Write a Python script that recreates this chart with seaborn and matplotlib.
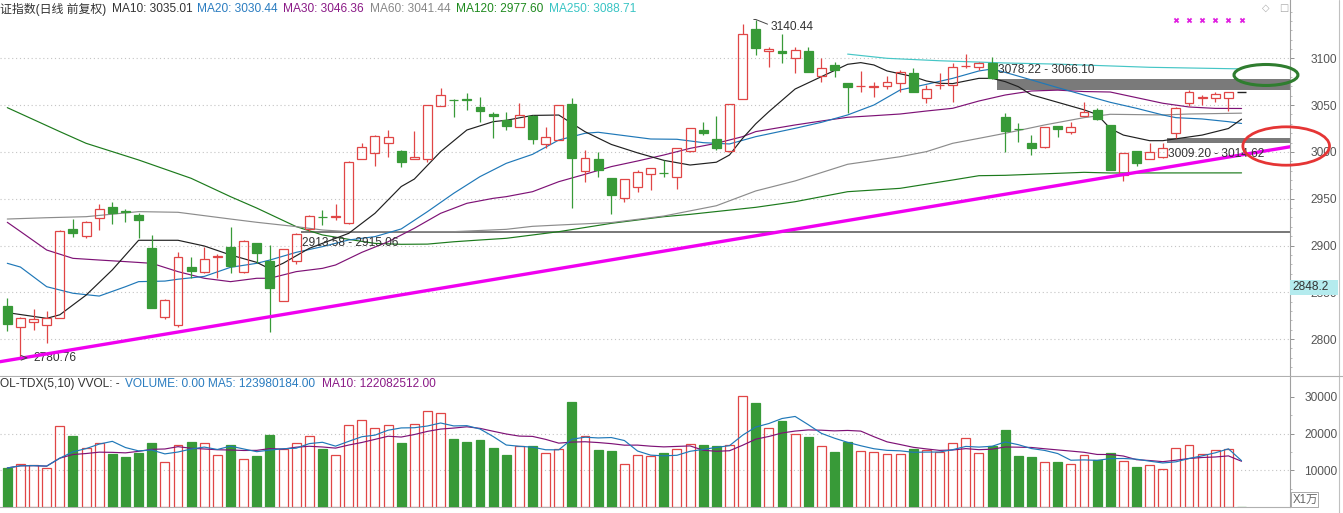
import numpy as np
import pandas as pd
import matplotlib
matplotlib.use("Agg")
import matplotlib.pyplot as plt
import seaborn as sns
from matplotlib.patches import Ellipse, Rectangle

# ---------------- data ----------------
opens = [2835.4, 2812.6, 2818.7, 2815.2, 2822.2, 2917.3, 2910.5, 2929.1, 2940.8, 2937.0,
         2932.6, 2897.0, 2824.0, 2815.2, 2877.4, 2872.1, 2887.6, 2898.1, 2872.1, 2902.4,
         2883.5, 2840.7, 2883.8, 2918.0, 2931.0, 2930.5, 2923.7, 2992.1, 2998.5, 3009.2,
         3001.0, 2992.4, 2992.1, 3049.4, 3055.8, 3056.0, 3047.6, 3040.5, 3034.1, 3027.0,
         3038.4, 3008.1, 3012.7, 3050.9, 2980.0, 2992.5, 2971.8, 2950.4, 2962.9, 2976.1,
         2978.0, 2972.9, 3001.0, 3023.4, 3013.5, 3001.0, 3056.2, 3131.0, 3107.8, 3107.8,
         3100.0, 3107.8, 3081.5, 3092.9, 3073.3, 3070.0, 3069.5, 3070.4, 3073.3, 3084.0,
         3057.3, 3071.5, 3071.5, 3091.5, 3090.4, 3095.4, 3037.7, 3025.0, 3009.9, 3004.9,
         3027.7, 3020.9, 3038.4, 3044.8, 3028.8, 2975.4, 3001.0, 2992.5, 2994.2, 3019.9,
         3051.9, 3058.0, 3057.3, 3057.3]
closes = [2815.8, 2822.2, 2821.5, 2822.2, 2915.9, 2913.7, 2924.8, 2938.7, 2935.1, 2936.2,
          2927.6, 2833.6, 2841.8, 2887.4, 2872.8, 2885.3, 2888.3, 2878.5, 2905.2, 2892.4,
          2855.0, 2895.9, 2912.5, 2931.6, 2930.4, 2931.3, 2988.9, 3005.6, 3017.4, 3016.3,
          2988.9, 2994.9, 3050.1, 3060.8, 3055.3, 3055.4, 3044.1, 3038.4, 3028.1, 3039.5,
          3013.5, 3015.6, 3050.1, 2993.2, 2993.9, 2980.4, 2954.0, 2970.7, 2978.2, 2982.5,
          2977.4, 3003.8, 3025.2, 3019.9, 3003.8, 3050.9, 3125.6, 3110.7, 3110.0, 3105.3,
          3108.9, 3085.8, 3089.3, 3087.5, 3069.0, 3070.5, 3070.0, 3074.4, 3085.0, 3064.4,
          3067.2, 3072.0, 3090.4, 3092.0, 3095.4, 3078.6, 3022.4, 3024.5, 3003.8, 3026.3,
          3024.1, 3026.3, 3043.0, 3034.8, 2980.7, 2998.5, 2988.6, 2999.6, 3004.6, 3047.3,
          3064.4, 3058.5, 3061.9, 3063.7]
highs = [2843.6, 2824.0, 2831.8, 2830.0, 2916.6, 2928.3, 2926.0, 2944.4, 2946.2, 2939.0,
         2934.4, 2911.3, 2843.0, 2892.7, 2887.4, 2898.8, 2890.6, 2919.4, 2906.0, 2903.0,
         2900.6, 2896.0, 2913.58, 2932.6, 2938.0, 2944.0, 2990.3, 3009.2, 3017.6, 3023.4,
         3002.0, 3022.4, 3050.3, 3068.0, 3056.2, 3062.6, 3059.0, 3043.0, 3043.0, 3051.9,
         3039.5, 3026.3, 3050.3, 3057.3, 3002.1, 2999.6, 2972.0, 2971.0, 2980.7, 2982.7,
         2991.4, 3004.0, 3025.4, 3032.3, 3038.4, 3051.0, 3136.3, 3140.44, 3112.5, 3125.6,
         3112.5, 3112.5, 3100.0, 3096.4, 3073.5, 3086.5, 3075.1, 3081.5, 3087.5, 3089.3,
         3071.5, 3084.0, 3094.7, 3104.3, 3096.4, 3101.8, 3041.2, 3030.6, 3018.1, 3026.5,
         3028.0, 3032.3, 3053.7, 3046.6, 3029.0, 2999.2, 3001.2, 3009.2, 3009.20, 3047.5,
         3066.10, 3060.8, 3064.4, 3063.9]
lows = [2808.7, 2780.76, 2809.8, 2795.5, 2822.2, 2909.5, 2907.7, 2916.6, 2922.6, 2924.8,
        2908.4, 2833.0, 2821.5, 2812.6, 2865.0, 2871.0, 2865.0, 2870.3, 2870.3, 2881.0,
        2808.0, 2840.5, 2880.0, 2915.06, 2921.9, 2927.3, 2923.5, 2992.0, 2985.3, 2994.9,
        2984.3, 2992.0, 2989.6, 3049.0, 3037.7, 3044.8, 3032.3, 3015.2, 3023.4, 3026.8,
        3008.1, 3003.8, 3012.5, 2939.7, 2968.2, 2973.6, 2933.3, 2946.6, 2957.5, 2959.3,
        2972.9, 2960.4, 3000.0, 3018.0, 3002.1, 3000.3, 3056.0, 3103.6, 3091.1, 3094.7,
        3084.0, 3085.0, 3074.4, 3080.4, 3041.2, 3064.4, 3059.0, 3067.2, 3064.4, 3063.7,
        3051.9, 3067.2, 3053.7, 3089.3, 3087.5, 3078.22, 3000.3, 3010.3, 2996.7, 3004.7,
        3016.3, 3018.8, 3038.2, 3034.5, 2980.5, 2969.3, 2985.3, 2992.3, 2994.0, 3014.62,
        3049.4, 3050.1, 3053.7, 3044.1]
last_price = 3063.7   # today's (empty) slot

volumes = [10636, 11817, 11363, 10726, 21998, 19271, 16180, 17544, 14453, 13544,
           14726, 17362, 12272, 17000, 17635, 17362, 14090, 16817, 13181, 13908,
           19544, 15908, 17544, 19453, 15726, 14272, 22452, 23816, 21634, 22452,
           17362, 22725, 26179, 25725, 18453, 17726, 18180, 15998, 14090, 16726,
           16544, 14635, 15908, 28543, 19453, 15544, 15180, 11817, 14272, 13817,
           14635, 15908, 17271, 16817, 16544, 17000, 30179, 28361, 21634, 23361,
           19816, 18998, 16544, 14999, 17726, 15180, 14908, 14362, 14362, 15726,
           15453, 14999, 17544, 18816, 14817, 16544, 20907, 13817, 13544, 12272,
           12272, 11817, 14272, 12908, 14635, 12453, 10908, 11544, 10454, 16180,
           17000, 14544, 15635, 15908, 0]

ma10_idx = [0, 3, 4, 6, 8, 10, 13, 15, 17, 19, 20, 21, 23, 26, 28, 30, 31, 33, 35, 37, 38, 40, 42,
            44, 46, 48, 50, 52, 54, 55, 56, 57, 58, 60, 62, 64, 65, 66, 67, 69, 70, 71, 72, 74, 75,
            76, 77, 78, 80, 82, 83, 84, 85, 87, 88, 89, 91, 93, 94]
ma10_val = [2828.3, 2822.2, 2826.0, 2847.0, 2874.0, 2905.6, 2905.6, 2899.5, 2889.9, 2882.0, 2875.0,
            2881.0, 2897.0, 2913.0, 2934.4, 2963.0, 2971.0, 3000.3, 3023.4, 3032.3, 3033.8, 3039.0,
            3039.4, 3021.6, 3008.0, 2999.0, 2991.0, 2986.0, 2989.0, 2996.7, 3014.5, 3030.0, 3043.0,
            3067.2, 3080.4, 3093.6, 3095.4, 3092.9, 3086.5, 3080.4, 3075.8, 3073.3, 3073.0, 3078.6,
            3078.6, 3075.1, 3069.7, 3061.0, 3053.0, 3045.0, 3040.0, 3025.0, 3018.0, 3012.0, 3012.0,
            3014.0, 3018.0, 3025.0, 3035.0]
ma20_idx = [0, 1, 3, 5, 7, 9, 10, 12, 13, 15, 17, 19, 20, 22, 24, 26, 28, 30, 32, 34, 36, 38, 40,
            42, 44, 45, 47, 49, 51, 53, 55, 57, 60, 62, 64, 66, 68, 70, 72, 74, 75, 76, 78, 80, 82,
            84, 86, 88, 89, 91, 93, 94]
ma20_val = [2881.0, 2877.0, 2856.0, 2849.0, 2846.0, 2856.0, 2861.4, 2862.0, 2864.0, 2867.0, 2876.7,
            2881.0, 2884.5, 2892.7, 2898.8, 2905.9, 2909.5, 2917.7, 2936.2, 2955.8, 2973.6, 2987.8,
            2997.4, 3012.7, 3019.9, 3021.0, 3017.4, 3013.8, 3013.5, 3009.9, 3008.5, 3016.3, 3025.2,
            3031.6, 3039.5, 3050.1, 3066.2, 3072.2, 3078.6, 3086.5, 3088.6, 3085.0, 3076.9, 3068.7,
            3060.8, 3053.0, 3046.6, 3039.5, 3036.6, 3035.2, 3032.3, 3030.4]
ma30_idx = [0, 1, 3, 5, 7, 9, 11, 13, 15, 17, 19, 20, 22, 24, 25, 27, 29, 31, 33, 35, 37, 38, 40,
            42, 44, 46, 48, 50, 52, 54, 56, 57, 60, 62, 64, 66, 68, 70, 72, 74, 76, 78, 80, 82, 84,
            86, 88, 90, 92, 94]
ma30_val = [2924.8, 2915.0, 2895.2, 2886.3, 2884.5, 2882.8, 2881.0, 2872.1, 2865.0, 2861.4, 2865.0,
            2865.0, 2872.1, 2875.6, 2879.2, 2892.7, 2904.0, 2918.4, 2934.4, 2945.1, 2950.4, 2952.2,
            2957.5, 2968.2, 2976.1, 2984.3, 2990.3, 2996.7, 3003.8, 3009.2, 3016.3, 3021.7, 3028.8,
            3033.0, 3037.0, 3038.7, 3040.5, 3043.7, 3046.6, 3054.4, 3060.8, 3065.1, 3066.0, 3064.5,
            3064.0, 3058.0, 3052.0, 3048.0, 3046.5, 3046.4]
ma60_idx = [0, 3, 6, 10, 13, 17, 19, 22, 24, 26, 30, 34, 38, 40, 42, 46, 50, 54, 57, 60, 64, 68,
            70, 72, 74, 76, 79, 82, 84, 88, 90, 94]
ma60_val = [2928.3, 2929.7, 2930.8, 2936.2, 2935.5, 2928.3, 2924.8, 2920.2, 2916.6, 2914.8, 2914.8,
            2914.8, 2917.3, 2920.5, 2921.9, 2924.5, 2931.5, 2942.5, 2958.3, 2969.0, 2986.8, 2994.9,
            3000.3, 3009.2, 3014.5, 3019.9, 3028.8, 3036.6, 3040.2, 3039.5, 3040.5, 3041.4]
ma120_idx = [0, 4, 6, 10, 14, 17, 19, 22, 24, 26, 28, 30, 32, 34, 36, 38, 42, 46, 50, 52, 57, 60,
             64, 68, 72, 74, 76, 82, 84, 94]
ma120_val = [3047.3, 3021.7, 3009.2, 2991.4, 2971.8, 2952.2, 2940.0, 2920.2, 2911.3, 2906.6, 2902.3,
             2901.3, 2901.5, 2904.0, 2905.9, 2907.7, 2914.8, 2923.7, 2930.8, 2933.3, 2940.8, 2946.8,
             2957.5, 2961.1, 2970.0, 2974.6, 2975.0, 2978.2, 2977.5, 2977.6]
ma250_idx = [64, 67, 71, 76, 80, 87, 94]
ma250_val = [3104.5, 3100.0, 3097.4, 3095.0, 3093.8, 3090.4, 3088.7]

trend_idx = [-0.55, 97.7]
trend_val = [2775.9, 3005.5]

gaps = [(22, 2913.58, 2915.06, "2913.58 - 2915.06", 2903.0),
        (75, 3066.10, 3078.22, "3078.22 - 3066.10", 3087.0),
        (88, 3009.20, 3014.62, "3009.20 - 3014.62", 2997.8)]
signal_idx = [89, 90, 91, 92, 93, 94]

price_ticks = [2800, 2850, 2900, 2950, 3000, 3050, 3100]
vol_ticks = [10000, 20000, 30000]

# ---------------- style ----------------
sns.set_theme(style="white")
plt.rcParams['font.family'] = ['Liberation Sans', 'Noto Sans CJK SC', 'DejaVu Sans']

RED = '#E04646'
GREEN = '#389A38'
W, H = 1343, 513
fig = plt.figure(figsize=(W / 100, H / 100), dpi=100)
fig.patch.set_facecolor('white')

def fx(x):
    return x / W

def fy(y):
    return 1 - y / H

ax = fig.add_axes([0, fy(376), fx(1290), 376 / H])
ax2 = fig.add_axes([0, fy(507), fx(1290), (507 - 377) / H])
XMIN, XMAX = -0.556, 97.69
for a in (ax, ax2):
    a.set_facecolor('white')
    a.set_xlim(XMIN, XMAX)
    a.set_xticks([])
    for s in ('top', 'left'):
        a.spines[s].set_visible(False)
    a.spines['right'].set_color('#a0a0a0')
    a.spines['bottom'].set_color('#b0b0b0')
    a.spines['right'].set_linewidth(0.8)
    a.spines['bottom'].set_linewidth(0.8)
ax.set_ylim(2760.6, 3162.3)
ax2.set_ylim(0, 35420)

# grids
for t in price_ticks:
    ax.axhline(t, color='#c4c4c4', lw=0.8, ls=(0, (1, 2.5)), zorder=0)
for t in vol_ticks[:2]:
    ax2.axhline(t, color='#c4c4c4', lw=0.8, ls=(0, (1, 2.5)), zorder=0)

# moving averages
for idx, val, c in [(ma120_idx, ma120_val, '#1C7A1C'), (ma60_idx, ma60_val, '#8C8C8C'),
                    (ma30_idx, ma30_val, '#7E1276'), (ma20_idx, ma20_val, '#1F78B8'),
                    (ma10_idx, ma10_val, '#202020'), (ma250_idx, ma250_val, '#45C6C6')]:
    sns.lineplot(x=idx, y=val, ax=ax, color=c, linewidth=0.85, legend=False, zorder=2)

# gap bands
for gi, lo, hi, lab, ty in gaps:
    ax.fill_between([gi + 0.35, XMAX], lo, hi, color='#7a7a7a', lw=0, zorder=1.5)
    ax.text(gi + 0.42, ty, lab, fontsize=8.6, color='#333333', va='center', ha='left', zorder=6)

# candles
o = np.array(opens); c = np.array(closes); h = np.array(highs); l = np.array(lows)
x = np.arange(len(o))
up = c >= o
top = np.maximum(o, c); bot = np.minimum(o, c)
hgt = np.maximum(top - bot, 0.4)
cols = np.where(up, RED, GREEN)
ax.vlines(x, top, h, colors=cols, lw=0.9, zorder=3)
ax.vlines(x, l, bot, colors=cols, lw=0.9, zorder=3)
ax.bar(x[up], hgt[up], bottom=bot[up], width=0.68, facecolor='none', edgecolor=RED, lw=0.9, zorder=3)
ax.bar(x[~up], hgt[~up], bottom=bot[~up], width=0.68, facecolor=GREEN, edgecolor=GREEN, lw=0.9, zorder=3)
ax.hlines(last_price, len(o) - 0.35, len(o) + 0.35, color='#222222', lw=1, zorder=3)

# trend line
sns.lineplot(x=trend_idx, y=trend_val, ax=ax, color='#F000F0', linewidth=2.4, legend=False, zorder=4)

# extremes labels
ax.plot([56.85, 57.0, 57.9], [3141.5, 3141.5, 3136.5], color='#444444', lw=0.7, zorder=6)
ax.text(58.1, 3133.5, "3140.44", fontsize=8.6, color='#333333', va='center', ha='left')
ax.plot([1.05, 1.5, 1.05], [2782.5, 2780.0, 2777.5], color='#444444', lw=0.7, zorder=6)
ax.text(2.0, 2779.8, "2780.76", fontsize=8.6, color='#333333', va='center', ha='left')

# signal markers
ax.scatter(signal_idx, [3140.8] * len(signal_idx), marker='x', s=9, color='#E020E0', linewidths=1.3, zorder=6)

# ellipses
ax.add_patch(Ellipse((95.86, 3082.2), 4.87, 22.4, facecolor='none', edgecolor='#2F7D2F', lw=2.2,
                     clip_on=False, zorder=7))
ax.add_patch(Ellipse((97.4, 3006.3), 6.6, 41.0, facecolor='none', edgecolor='#E53535', lw=2.0,
                     clip_on=False, zorder=7))

# volume bars
v = np.array(volumes, dtype=float)
vx = np.arange(len(v))
vup = np.r_[up, [False]]
ax2.bar(vx[vup], v[vup], width=0.68, facecolor='none', edgecolor=RED, lw=0.9, zorder=3)
ax2.bar(vx[~vup], v[~vup], width=0.68, facecolor=GREEN, edgecolor=GREEN, lw=0.9, zorder=3)
vs = pd.Series(v)
sns.lineplot(x=vx, y=vs.rolling(10, min_periods=1).mean().values, ax=ax2, color='#7E1276',
             linewidth=0.85, legend=False, zorder=4)
sns.lineplot(x=vx, y=vs.rolling(5, min_periods=1).mean().values, ax=ax2, color='#1F78B8',
             linewidth=0.85, legend=False, zorder=4)

# right axes
for a, ticks in ((ax, price_ticks), (ax2, vol_ticks)):
    a.yaxis.tick_right()
    a.set_yticks(ticks)
    a.set_yticklabels([str(t) for t in ticks])
    a.tick_params(axis='y', direction='out', length=3, width=0.7, color='#909090',
                  labelcolor='#555555', labelsize=8.6, pad=31, right=True, left=False)
    for lab in a.get_yticklabels():
        lab.set_horizontalalignment('right')
    a.set_ylabel('')
ax.set_yticks(np.arange(2770, 3160, 10), minor=True)
ax.tick_params(axis='y', which='minor', direction='out', length=1.5, width=0.6, color='#b0b0b0', right=True, left=False)
ax2.set_yticks(np.arange(5000, 35000, 5000), minor=True)
ax2.tick_params(axis='y', which='minor', direction='out', length=1.5, width=0.6, color='#b0b0b0', right=True, left=False)

# header texts
hy = fy(9)
for xs, txt, col in [(0, "证指数(日线 前复权)", '#333333'), (111.6, "MA10: 3035.01", '#333333'),
                     (197.4, "MA20: 3030.44", '#2A7CC0'), (283.3, "MA30: 3046.36", '#8A1A86'),
                     (369.6, "MA60: 3041.44", '#888888'), (456, "MA120: 2977.60", '#1E8A1E'),
                     (548.7, "MA250: 3088.71", '#38C4C4')]:
    fig.text(fx(xs), hy, txt, color=col, fontsize=8.6, va='center', ha='left')
vy = fy(384)
for xs, txt, col in [(0, "OL-TDX(5,10) VVOL: -", '#333333'),
                     (125, "VOLUME: 0.00 MA5: 123980184.00", '#2A7CC0'),
                     (322, "MA10: 122082512.00", '#8A1A86')]:
    fig.text(fx(xs), vy, txt, color=col, fontsize=8.6, va='center', ha='left')

fig.text(fx(1262), fy(8), "◇", color='#aaaaaa', fontsize=7, va='center', ha='left', family='DejaVu Sans')
fig.text(fx(1279), fy(8), "□", color='#aaaaaa', fontsize=7, va='center', ha='left', family='DejaVu Sans')

# current price box and unit box
fig.add_artist(Rectangle((fx(1290), fy(295)), fx(48), 15 / H, transform=fig.transFigure,
                         facecolor='#B4EBEE', edgecolor='#B4EBEE', lw=0, zorder=10))
fig.text(fx(1292), fy(287.5), "2848.2", color='#333333', fontsize=8.6, va='center', ha='left', zorder=11)
fig.add_artist(Rectangle((fx(1291), fy(507)), fx(27), 15 / H, transform=fig.transFigure,
                         facecolor='white', edgecolor='#aaaaaa', lw=0.7, zorder=10))
fig.text(fx(1293), fy(499.5), "X1万", color='#666666', fontsize=8.3, va='center', ha='left', zorder=11)
fig.add_artist(plt.Line2D([fx(1339), fx(1339)], [0, 1], transform=fig.transFigure, color='#c0c0c0', lw=0.8))
fig.add_artist(plt.Line2D([fx(1290), 1], [fy(376), fy(376)], transform=fig.transFigure, color='#b0b0b0', lw=0.8))

fig.savefig("out.png", dpi=100, facecolor='white')
